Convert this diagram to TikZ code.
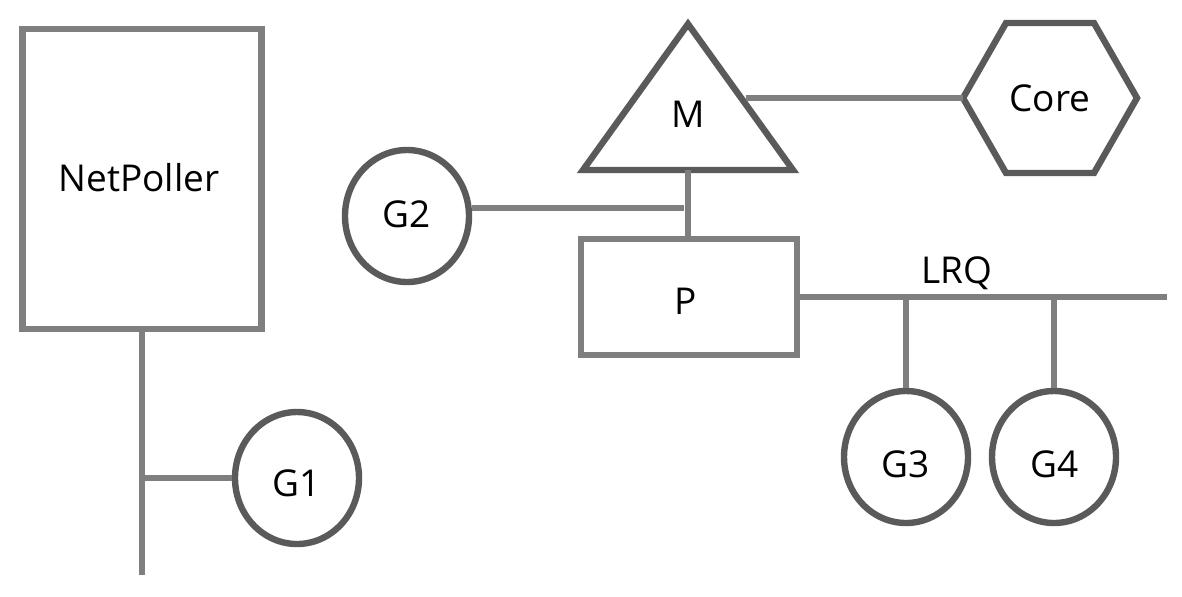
\documentclass[tikz,border=0pt]{standalone}
\usepackage{fontspec}
\setmainfont{Open Sans}
\usetikzlibrary{shapes.geometric}
\definecolor{shapegray}{HTML}{5A5A5A}
\definecolor{linegray}{HTML}{7F7F7F}
\begin{document}
\begin{tikzpicture}[x=0.5pt,y=-0.5pt,
  lbl/.style={font=\fontsize{18.5}{20}\selectfont,text=black,inner sep=0pt,anchor=base},
  shp/.style={draw=shapegray,line width=3.2pt},
  box/.style={draw=linegray,line width=3.2pt,inner sep=0pt},
  gnode/.style={ellipse,shp,minimum width=62pt,minimum height=66pt,inner sep=0pt},
  conn/.style={draw=linegray,line width=2.8pt}]
\useasboundingbox (0,0) rectangle (1182,596);
% NetPoller
\node[box,minimum width=119.5pt,minimum height=150pt] (np) at (142,179) {};
\node[lbl] (nptext) at (139,191) {NetPoller};
\node[gnode] (g1) at (297,478) {};
\node[lbl] (g1text) at (297,496) {G1};
\coordinate (npbot) at (142,575);
\draw[conn] (np.south) -- (npbot);
\coordinate (npjoin) at (142,478);
\draw[conn] (npjoin) -- (g1.west);
% M triangle
\coordinate (mA) at (688,24);
\coordinate (mL) at (583,170);
\coordinate (mR) at (793,170);
\draw[shp,line join=miter] (mA) -- (mR) -- (mL) -- cycle;
\node[lbl] (m) at (688,127) {M};
\coordinate (mright) at (746,98);
\coordinate (mbot) at (688,170);
% Core hexagon
\draw[shp,line join=miter] (963,98) -- (1006,23) -- (1094,23) -- (1137,98) -- (1094,173) -- (1006,173) -- cycle;
\coordinate (coreleft) at (963,98);
\node[lbl] (core) at (1050,111) {Core};
\draw[conn] (mright) -- (coreleft);
% P
\node[box,minimum width=108pt,minimum height=58pt] (p) at (689,297) {};
\node[lbl] (ptext) at (686,314) {P};
\draw[conn] (mbot) -- (p.north -| mbot);
% G2
\node[gnode] (g2) at (407,216) {};
\node[lbl] (g2text) at (407,227) {G2};
\coordinate (g2end) at (684,208);
\draw[conn] (g2.east |- g2end) -- (g2end);
% LRQ
\coordinate (lrqend) at (1167,297);
\draw[conn] (p.east |- lrqend) -- (lrqend);
\node[lbl] (lrq) at (957,283) {LRQ};
\node[gnode] (g3) at (906,457) {};
\node[lbl] (g3text) at (906,477) {G3};
\node[gnode] (g4) at (1054,457) {};
\node[lbl] (g4text) at (1055,477) {G4};
\draw[conn] (g3.north |- lrqend) -- (g3.north);
\draw[conn] (g4.north |- lrqend) -- (g4.north);
\end{tikzpicture}
\end{document}
